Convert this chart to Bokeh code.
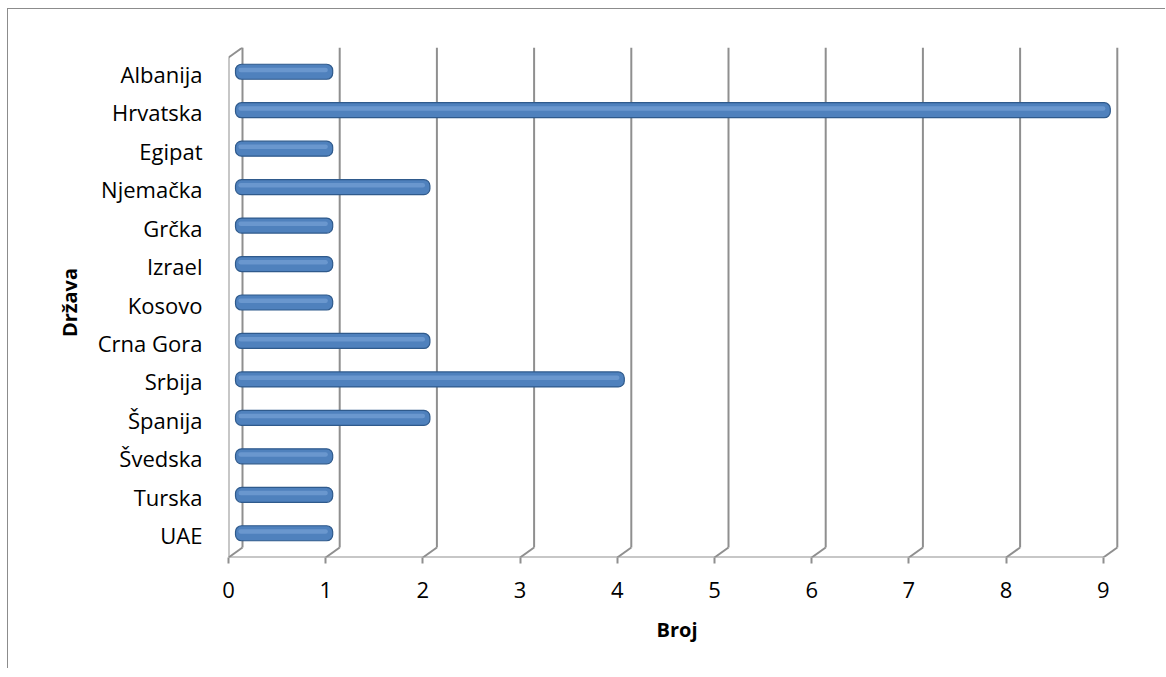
from bokeh.plotting import figure
from bokeh.models import Range1d, FixedTicker
from bokeh.embed import file_html
from bokeh.resources import INLINE

# ---- data ----
categories = ["Albanija", "Hrvatska", "Egipat", "Njemačka", "Grčka", "Izrael", "Kosovo",
              "Crna Gora", "Srbija", "Španija", "Švedska", "Turska", "UAE"]
values = [1, 9, 1, 2, 1, 1, 1, 2, 4, 2, 1, 1, 1]
x_ticks = [0, 1, 2, 3, 4, 5, 6, 7, 8, 9]
x_title = "Broj"
y_title = "Država"

# ---- 3D-ish geometry (data units) ----
PX_X = 97.2   # px per unit on x
PX_Y = 38.46  # px per category
DX = 14 / PX_X
DY = 10 / PX_Y
n = len(categories)
ypos = [n - 1 - j + 0.5 for j in range(n)]
label_pos = [y + 3 / PX_Y for y in ypos]
xmax = x_ticks[-1]

GRID = "#8f8f8f"
FONT = "Open Sans"

p = figure(width=1158, height=660,
           x_range=Range1d(0, 897 / PX_X), y_range=Range1d(0, 510 / PX_Y),
           output_backend="svg", toolbar_location=None,
           min_border_left=220, min_border_right=41,
           min_border_top=38, min_border_bottom=112)
p.outline_line_color = None
p.grid.visible = False
p.styles = {"border-top": "1px solid #8c8c8c", "border-left": "1px solid #8c8c8c",
            "margin-left": "7px", "margin-top": "8px"}

# back gridlines (walls)
bx = [t + DX for t in x_ticks]
p.segment(x0=bx, y0=[DY] * len(bx), x1=bx, y1=[n + DY] * len(bx),
          line_color=GRID, line_width=2)
# floor diagonals
p.segment(x0=x_ticks, y0=[0] * len(x_ticks), x1=bx, y1=[DY] * len(bx),
          line_color=GRID, line_width=2)
# left wall front edge and its top diagonal
p.segment(x0=[0, 0], y0=[0, n], x1=[0, DX], y1=[n, n + DY],
          line_color=GRID, line_width=2)
# front x-axis line
p.segment(x0=[0], y0=[0], x1=[xmax], y1=[0], line_color=GRID, line_width=2)

# bars (cylinder-like)
yb = [y + DY / 2 for y in ypos]
left = [DX / 2] * n
right = [v + DX / 2 for v in values]
H = 15 / PX_Y
p.hbar(y=yb, left=left, right=right, height=H,
       fill_color="#4f81bd", line_color="#2f5a8c", line_width=1.2, border_radius=6)
p.hbar(y=[y + H * 0.12 for y in yb], left=[l + 0.03 for l in left],
       right=[r - 0.05 for r in right], height=H * 0.3,
       fill_color="#86aee0", fill_alpha=0.5, line_color=None, border_radius=3)

# axes
xa = p.xaxis[0]
xa.ticker = FixedTicker(ticks=x_ticks)
xa.axis_line_color = None
xa.major_tick_line_color = GRID
xa.major_tick_line_width = 2
xa.major_tick_out = 6
xa.major_tick_in = 0
xa.minor_tick_line_color = None
xa.major_label_standoff = 18
xa.major_label_text_font = FONT
xa.major_label_text_font_size = "22px"
xa.major_label_text_color = "black"
xa.axis_label = x_title
xa.axis_label_text_font = FONT
xa.axis_label_text_font_size = "20px"
xa.axis_label_text_font_style = "bold"
xa.axis_label_text_color = "black"
xa.axis_label_standoff = 15

ya = p.yaxis[0]
ya.ticker = FixedTicker(ticks=label_pos)
ya.major_label_overrides = {y: c for y, c in zip(label_pos, categories)}
ya.axis_line_color = None
ya.major_tick_line_color = None
ya.minor_tick_line_color = None
ya.major_label_standoff = 20
ya.major_label_text_font = FONT
ya.major_label_text_font_size = "22px"
ya.major_label_text_color = "black"
ya.axis_label = y_title
ya.axis_label_text_font = FONT
ya.axis_label_text_font_size = "20px"
ya.axis_label_text_font_style = "bold"
ya.axis_label_text_color = "black"
ya.axis_label_standoff = 12

open("out.html", "w").write(file_html(p, INLINE))
